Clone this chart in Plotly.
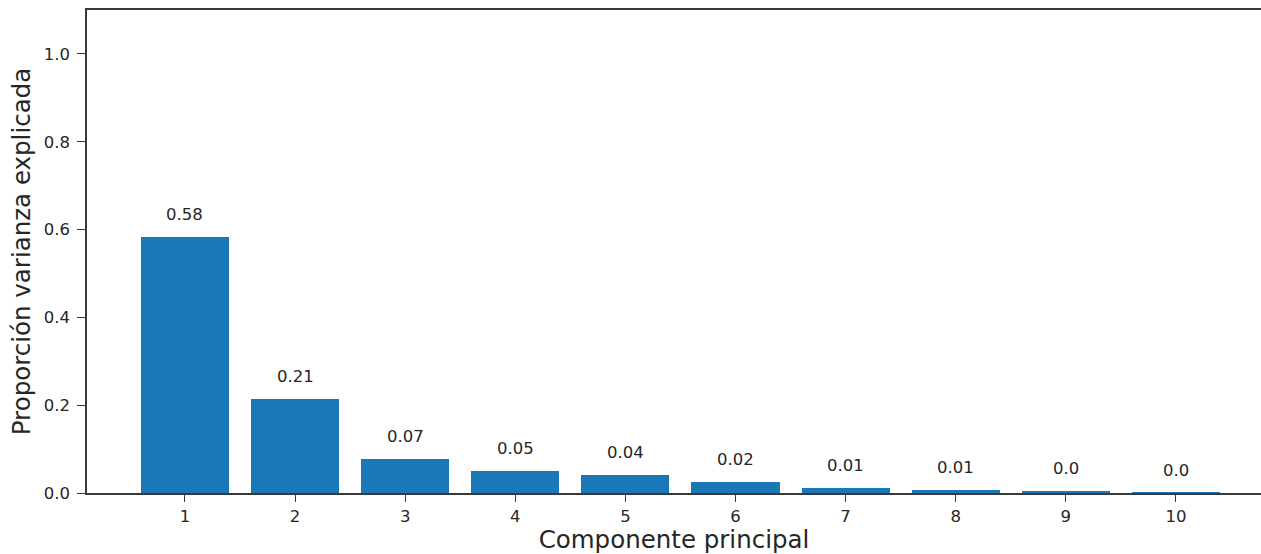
import plotly.graph_objects as go

components = [1, 2, 3, 4, 5, 6, 7, 8, 9, 10]
variance_ratio = [0.583, 0.214, 0.077, 0.049, 0.041, 0.024, 0.0114, 0.0068, 0.0038, 0.0006]
bar_labels = ["0.58", "0.21", "0.07", "0.05", "0.04", "0.02", "0.01", "0.01", "0.0", "0.0"]
y_ticks = [0.0, 0.2, 0.4, 0.6, 0.8, 1.0]
x_title = "Componente principal"
y_title = "Proporción varianza explicada"

FONT = "DejaVu Sans"
TXT = "#262626"
AX = "#3a3a3a"

fig = go.Figure()
fig.add_trace(go.Bar(
    x=components, y=variance_ratio, width=0.8,
    marker=dict(color="#1a78b8", line=dict(width=0)),
    showlegend=False, hoverinfo="x+y",
))

for c, v, lab in zip(components, variance_ratio, bar_labels):
    fig.add_annotation(x=c, y=v, text=lab, showarrow=False,
                       yanchor="bottom", yshift=11,
                       font=dict(family=FONT, size=16.5, color=TXT))

fig.update_layout(
    width=1261, height=554,
    margin=dict(l=87, r=0, t=10, b=61),
    paper_bgcolor="white", plot_bgcolor="white",
    font=dict(family=FONT, color=TXT),
    bargap=0,
)
fig.update_xaxes(
    range=[0.110, 10.773],
    tickmode="array", tickvals=components, ticktext=[str(c) for c in components],
    showgrid=False, zeroline=False,
    showline=True, linecolor=AX, linewidth=1.5, mirror=True,
    ticks="outside", ticklen=7, tickwidth=1.2, tickcolor=AX,
    tickfont=dict(family=FONT, size=16.5, color=TXT),
    title=dict(text=x_title, font=dict(family=FONT, size=24.5, color=TXT), standoff=6),
    automargin=False,
)
fig.update_yaxes(
    range=[0, 1.1],
    tickmode="array", tickvals=y_ticks, ticktext=[f"{t:.1f}" for t in y_ticks],
    showgrid=False, zeroline=False,
    showline=True, linecolor=AX, linewidth=1.5, mirror=False,
    ticks="outside", ticklen=8, tickwidth=1.2, tickcolor=AX,
    ticklabelstandoff=4,
    tickfont=dict(family=FONT, size=16.5, color=TXT),
    title=dict(text=y_title, font=dict(family=FONT, size=24.5, color=TXT), standoff=6),
    automargin=False,
)

fig.write_html(
    "out.html",
    config={"displayModeBar": False},
    post_script="document.body.style.margin='0';document.body.style.overflow='hidden';",
)
